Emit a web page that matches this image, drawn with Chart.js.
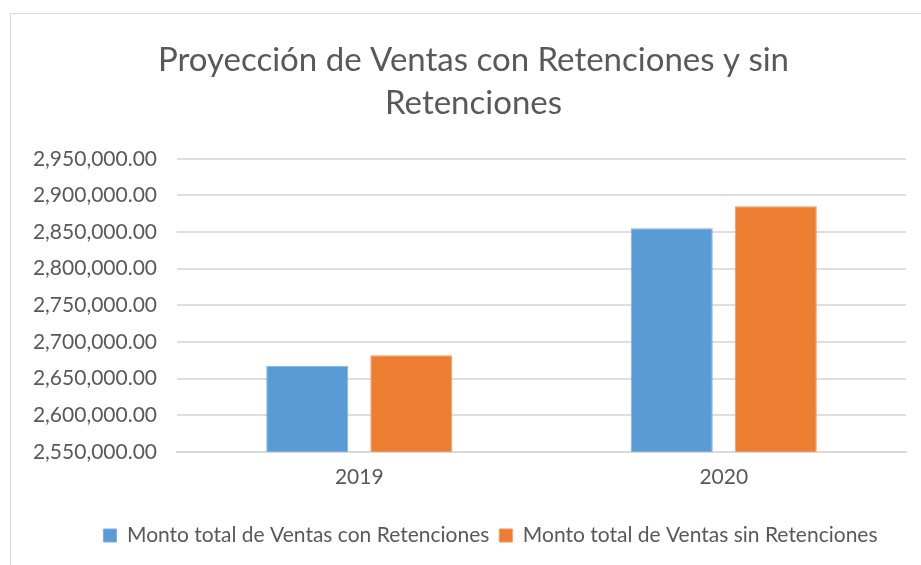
<!DOCTYPE html>
<html><head><meta charset="utf-8">
<script src="https://cdn.jsdelivr.net/npm/chart.js@4/dist/chart.umd.min.js"></script>
<style>
html,body{margin:0;padding:0;background:#fff;overflow:hidden;width:921px;height:565px;}
#wrap{position:absolute;left:10px;top:13px;width:930px;height:562px;border:1px solid #d9d9d9;box-sizing:border-box;background:#fff;}
canvas{display:block;}
</style></head>
<body>
<div id="wrap"><canvas id="c" width="928" height="560"></canvas></div>
<script>
const categories = ["2019", "2020"];
const conRetenciones = [2667400, 2855100];
const sinRetenciones = [2681900, 2885200];
const seriesNames = ["Monto total de Ventas con Retenciones", "Monto total de Ventas sin Retenciones"];
const titleLines = ["Proyección de Ventas con Retenciones y sin", "Retenciones"];
const yMin = 2550000, yMax = 2950000, yStep = 50000;

const FONT = "Lato, 'Open Sans', sans-serif";
const TXT = "#595959";
const shiftBoxes = {
  id: 'shiftBoxes',
  afterLayout(chart) {
    const l = chart.legend;
    if (l) { l.left += 32; l.right += 32; }
    const t = chart.titleBlock;
    if (t) { t.left += 15; t.right += 15; }
  }
};
new Chart(document.getElementById('c'), {
  type: 'bar',
  plugins: [shiftBoxes],
  data: {
    labels: categories,
    datasets: [
      {label: seriesNames[0], data: conRetenciones, backgroundColor: '#5B9BD5', borderColor:'#7FB0DE', borderWidth:1,
       categoryPercentage: 0.571, barPercentage: 0.788},
      {label: seriesNames[1], data: sinRetenciones, backgroundColor: '#ED7D31', borderColor:'#F19A5E', borderWidth:1,
       categoryPercentage: 0.571, barPercentage: 0.788}
    ]
  },
  options: {
    responsive: false,
    animation: false,
    devicePixelRatio: 1,
    layout: {padding: {left: 0, right: 33, top: 0, bottom: 18}},
    plugins: {
      title: {display: true, text: titleLines, color: TXT,
        font: {family: FONT, size: 33, weight: 'normal', lineHeight: 1.3},
        padding: {top: 25, bottom: 34}},
      legend: {position: 'bottom', align: 'center',
        labels: {color: TXT, font: {family: FONT, size: 21}, boxWidth: 13, boxHeight: 13, padding: 10}},
      tooltip: {enabled: false}
    },
    scales: {
      x: {
        grid: {display: false, drawTicks: false},
        border: {display: true, color: '#d9d9d9', width: 2},
        ticks: {color: TXT, font: {family: FONT, size: 21}, padding: 13},
        afterFit: s => { s.height += 12; }
      },
      y: {
        min: yMin, max: yMax,
        grid: {color: '#dedede', lineWidth: 2, drawTicks: false},
        border: {display: false},
        ticks: {stepSize: yStep, color: TXT, font: {family: FONT, size: 21}, padding: 20,
          callback: v => v.toLocaleString('en-US', {minimumFractionDigits: 2, maximumFractionDigits: 2})},
        afterFit: s => { s.width = 166; }
      }
    }
  }
});
</script>
</body></html>
